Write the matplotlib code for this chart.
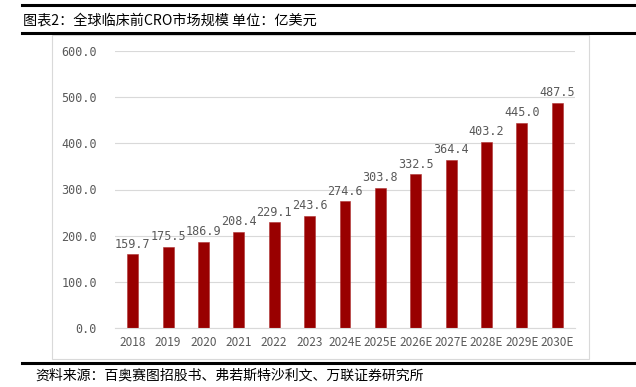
import matplotlib.pyplot as plt
import numpy as np
from matplotlib.patches import Rectangle
from matplotlib.lines import Line2D

plt.rcParams['font.family'] = ['Noto Sans CJK SC', 'DejaVu Sans']

# 数据
years = ['2018', '2019', '2020', '2021', '2022', '2023', '2024E', '2025E',
         '2026E', '2027E', '2028E', '2029E', '2030E']
values = [159.7, 175.5, 186.9, 208.4, 229.1, 243.6, 274.6, 303.8,
          332.5, 364.4, 403.2, 445.0, 487.5]
yticks = [0, 100, 200, 300, 400, 500, 600]

title = '图表2：全球临床前CRO市场规模 单位：亿美元'
source = '资料来源：百奥赛图招股书、弗若斯特沙利文、万联证券研究所'

W, H = 636, 387
fig = plt.figure(figsize=(W / 100, H / 100), dpi=100)

# 外框和粗线
def px(x, y):
    return x / W, 1 - y / H

fig.patches.append(Rectangle(px(52, 359), (589 - 52) / W, (359 - 35) / H,
                             transform=fig.transFigure, fill=False,
                             edgecolor='#d9d9d9', linewidth=0.8))
for yy, lw in [(5, 2.2), (33, 2.2), (363, 2.2)]:
    x0, y0 = px(22, yy)
    fig.lines.append(Line2D([x0, 1], [y0, y0], transform=fig.transFigure,
                            color='black', linewidth=lw))

fig.text(*px(23, 21), title, fontsize=10.2, va='center', ha='left', color='black')
fig.text(*px(35, 376), source, fontsize=10, va='center', ha='left', color='black')

ax = fig.add_axes([115 / W, 1 - 328 / H, 460 / W, (328 - 51) / H])
x = np.arange(len(years))
bars = ax.bar(x, values, width=0.31, color='#990000', edgecolor='#b03030', linewidth=0.4)

for xi, v in zip(x, values):
    ax.text(xi, v + 8, f'{v:.1f}', ha='center', va='bottom', fontsize=8.5,
            color='#595959', family='DejaVu Sans Mono')

ax.set_xlim(-0.5, len(years) - 0.5)
ax.set_ylim(0, 600)
ax.set_yticks(yticks)
ax.set_yticklabels([f'{t:.1f}' for t in yticks], family='DejaVu Sans Mono')
ax.set_xticks(x)
ax.set_xticklabels(years)
ax.tick_params(axis='both', length=0, labelsize=8.5, colors='#595959', pad=6)
ax.tick_params(axis='y', pad=13)
ax.grid(axis='y', color='#d9d9d9', linewidth=0.8)
ax.set_axisbelow(True)
for s in ['top', 'right', 'left']:
    ax.spines[s].set_visible(False)
ax.spines['bottom'].set_color('#d9d9d9')

fig.savefig('out.png', dpi=100)
